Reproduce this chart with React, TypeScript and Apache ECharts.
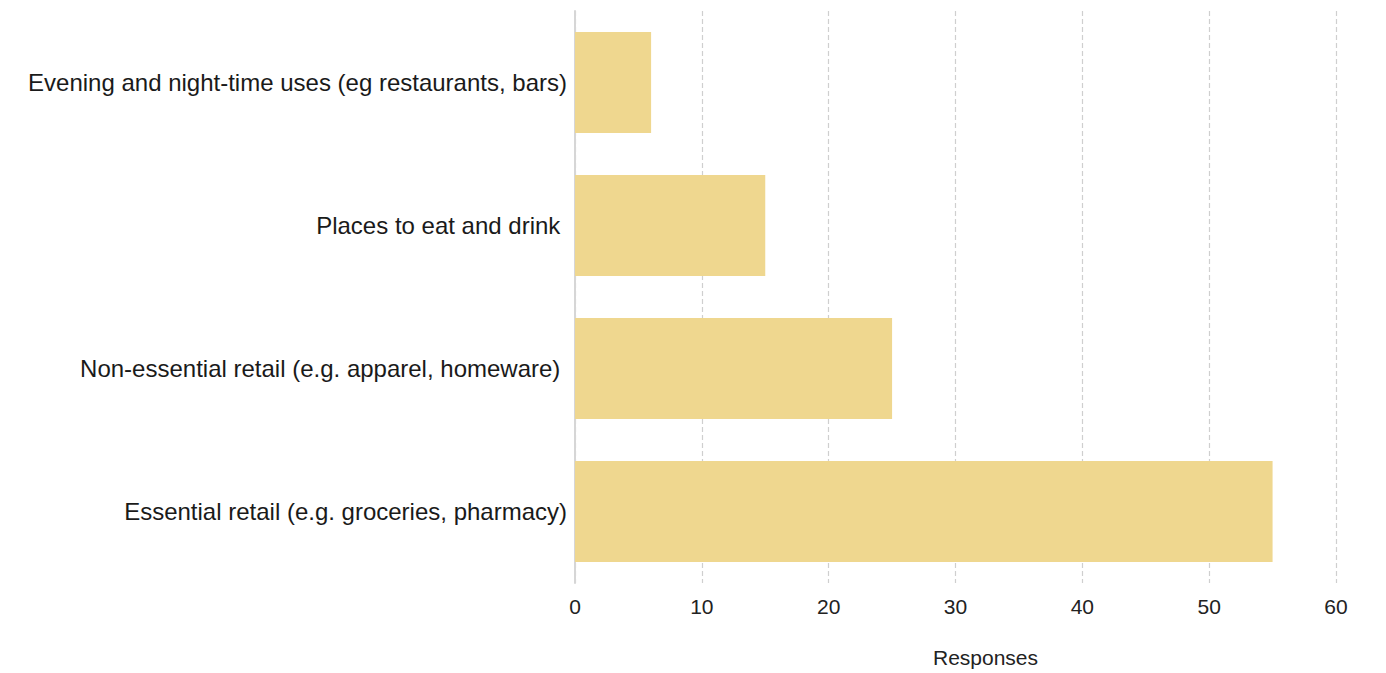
import React, { useEffect, useRef } from "react";
import * as echarts from "echarts";

const categories = [
  "Essential retail (e.g. groceries, pharmacy)",
  "Non-essential retail (e.g. apparel, homeware) ",
  "Places to eat and drink ",
  "Evening and night-time uses (eg restaurants, bars)",
];
const responses = [55, 25, 15, 6];
const xTicks = { min: 0, max: 60, interval: 10 };

export default function App() {
  const ref = useRef<HTMLDivElement>(null);
  useEffect(() => {
    if (!ref.current) return;
    const chart = echarts.init(ref.current, undefined, { renderer: "svg" });
    chart.setOption({
      animation: false,
      backgroundColor: "#ffffff",
      grid: { left: 575, right: 50, top: 11, bottom: 90, containLabel: false },
      xAxis: {
        type: "value",
        min: xTicks.min,
        max: xTicks.max,
        interval: xTicks.interval,
        name: "Responses",
        nameLocation: "middle",
        nameGap: 64,
        nameTextStyle: {
          fontFamily: "Liberation Sans, Arial, sans-serif",
          fontSize: 21,
          color: "#222",
          padding: [0, 0, 0, 60],
        },
        axisLine: { show: false },
        axisTick: { show: false },
        axisLabel: {
          fontFamily: "Liberation Sans, Arial, sans-serif",
          fontSize: 21,
          color: "#222",
          margin: 13,
        },
        splitLine: {
          show: true,
          lineStyle: { color: "#cfcfcf", type: [5, 3], width: 1.2 },
        },
      },
      yAxis: {
        type: "category",
        data: categories,
        axisLine: { show: true, lineStyle: { color: "#d6d6d6", width: 2 } },
        axisTick: { show: false },
        axisLabel: {
          fontFamily: "Liberation Sans, Arial, sans-serif",
          fontSize: 24,
          color: "#1a1a1a",
          margin: 8,
        },
      },
      series: [
        {
          type: "bar",
          data: responses,
          barCategoryGap: "29.5%",
          itemStyle: { color: "#EFD78F" },
        },
      ],
    });
    return () => chart.dispose();
  }, []);
  return (
    <div
      ref={ref}
      style={{ position: "fixed", left: 0, top: 0, width: 1386, height: 673 }}
    />
  );
}
